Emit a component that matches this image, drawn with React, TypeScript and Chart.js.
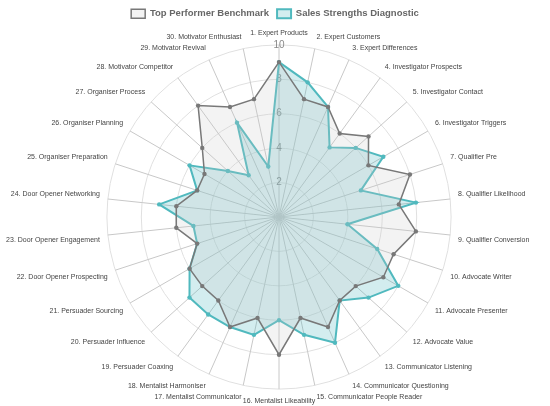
import React, { useEffect, useRef } from "react";
import { Chart, registerables } from "chart.js";

Chart.register(...registerables);

const competencies: string[] = [
  "1. Expert Products",
  "2. Expert Customers",
  "3. Expert Differences",
  "4. Investigator Prospects",
  "5. Investigator Contact",
  "6. Investigator Triggers",
  "7. Qualifier Pre",
  "8. Qualifier Likelihood",
  "9. Qualifier Conversion",
  "10. Advocate Writer",
  "11. Advocate Presenter",
  "12. Advocate Value",
  "13. Communicator Listening",
  "14. Communicator Questioning",
  "15. Communicator People Reader",
  "16. Mentalist Likeability",
  "17. Mentalist Communicator",
  "18. Mentalist Harmoniser",
  "19. Persuader Coaxing",
  "20. Persuader Influence",
  "21. Persuader Sourcing",
  "22. Door Opener Prospecting",
  "23. Door Opener Engagement",
  "24. Door Opener Networking",
  "25. Organiser Preparation",
  "26. Organiser Planning",
  "27. Organiser Process",
  "28. Motivator Competitor",
  "29. Motivator Revival",
  "30. Motivator Enthusiast",
];

const benchmarkScores: number[] = [
  9, 7, 7, 6, 7, 6, 8, 7, 8, 7, 7, 6, 6, 7, 6, 8, 6, 7, 6, 6, 6, 5, 6, 6, 5, 5, 6, 8, 7, 7,
];

const diagnosticScores: number[] = [
  9, 8, 7, 5, 6, 7, 5, 8, 4, 6, 8, 7, 6, 8, 7, 6, 7, 7, 7, 7, 6, 5, 5, 7, 5, 6, 4, 3, 6, 3,
];

const benchmarkLabel = "Top Performer Benchmark";
const diagnosticLabel = "Sales Strengths Diagnostic";

const FONT = "Arial, 'Liberation Sans', Helvetica, sans-serif";

export default function App() {
  const canvasRef = useRef<HTMLCanvasElement | null>(null);

  useEffect(() => {
    if (!canvasRef.current) return;
    const chart = new Chart(canvasRef.current, {
      type: "radar",
      data: {
        labels: competencies,
        datasets: [
          {
            label: benchmarkLabel,
            data: benchmarkScores,
            borderColor: "rgb(120,120,120)",
            backgroundColor: "rgba(200,200,200,0.22)",
            borderWidth: 1.5,
            pointRadius: 2.2,
            pointBackgroundColor: "rgb(120,120,120)",
            pointBorderColor: "rgb(120,120,120)",
            pointBorderWidth: 0,
          },
          {
            label: diagnosticLabel,
            data: diagnosticScores,
            borderColor: "rgb(80,185,190)",
            backgroundColor: "rgba(80,185,190,0.25)",
            borderWidth: 2,
            pointRadius: 2.2,
            pointBackgroundColor: "rgb(80,185,190)",
            pointBorderColor: "rgb(80,185,190)",
            pointBorderWidth: 0,
          },
        ],
      },
      options: {
        animation: false,
        responsive: true,
        maintainAspectRatio: false,
        layout: { padding: { top: 1, bottom: 0, left: 0, right: 0 } },
        plugins: {
          legend: {
            position: "top",
            labels: {
              boxWidth: 14,
              boxHeight: 9,
              padding: 8,
              color: "#666",
              font: { family: FONT, size: 9.5, weight: "bold" },
            },
          },
          tooltip: { enabled: false },
        },
        scales: {
          r: {
            min: 0,
            max: 10,
            ticks: {
              stepSize: 2,
              showLabelBackdrop: false,
              backdropPadding: 0,
              color: "#888",
              font: { family: FONT, size: 10, lineHeight: 1.2 },
            },
            grid: { circular: true, color: "#e0e0e0" },
            angleLines: { color: "#c8c8c8" },
            pointLabels: {
              color: "#444",
              padding: 3,
              font: { family: FONT, size: 7 },
            },
          },
        },
      },
    });
    return () => chart.destroy();
  }, []);

  return (
    <div style={{ position: "fixed", left: 0, top: 0, width: 550, height: 406 }}>
      <canvas ref={canvasRef} />
    </div>
  );
}
